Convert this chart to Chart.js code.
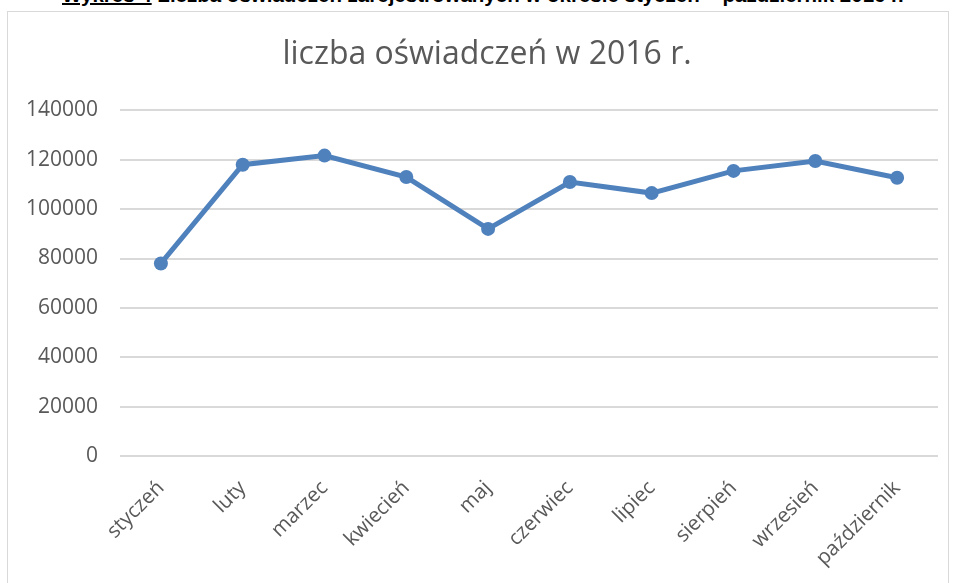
<!DOCTYPE html>
<html>
<head>
<meta charset="utf-8">
<script src="https://cdn.jsdelivr.net/npm/chart.js@4"></script>
<style>
  html, body { margin: 0; padding: 0; background: #ffffff; overflow: hidden; }
  body { width: 955px; height: 583px; position: relative; }
  #caption {
    position: absolute; left: 62px; top: -15px; white-space: nowrap;
    font-family: "Liberation Sans", Arial, sans-serif; font-weight: bold; font-size: 20.5px;
    line-height: 20.5px; color: #000;
  }
  #caption u { text-decoration-thickness: 2px; }
  #frame {
    position: absolute; left: 7px; top: 11px; width: 942px; height: 600px;
    border: 1px solid #d9d9d9; box-sizing: border-box;
  }
  #wrap { position: absolute; left: 0; top: 0; width: 955px; height: 583px; }
</style>
</head>
<body>
<div id="caption"><u>Wykres 4</u> Liczba oświadczeń zarejestrowanych w okresie styczeń – październik 2016 r.</div>
<div id="frame"></div>
<div id="wrap"><canvas id="c" width="955" height="583"></canvas></div>
<script>
const months = ["styczeń", "luty", "marzec", "kwiecień", "maj", "czerwiec", "lipiec", "sierpień", "wrzesień", "październik"];
const declarations = [78000, 118000, 121700, 113000, 92000, 111000, 106500, 115500, 119500, 112700];
const yTicks = [0, 20000, 40000, 60000, 80000, 100000, 120000, 140000];
const chartTitle = "liczba oświadczeń w 2016 r.";

const textColor = "#595959";
const gridColor = "#d9d9d9";
const lineColor = "#4f81bd";

const shiftTitle = {
  id: "shiftTitle",
  afterLayout(chart) {
    if (chart.titleBlock) { chart.titleBlock.left += 36; }
  }
};

new Chart(document.getElementById("c"), {
  type: "line",
  data: {
    labels: months,
    datasets: [{
      label: chartTitle,
      data: declarations,
      borderColor: lineColor,
      backgroundColor: lineColor,
      borderWidth: 5,
      pointRadius: 7,
      pointHoverRadius: 7,
      pointBackgroundColor: lineColor,
      pointBorderColor: lineColor,
      pointBorderWidth: 0,
      tension: 0,
      fill: false
    }]
  },
  plugins: [shiftTitle],
  options: {
    responsive: false,
    animation: false,
    devicePixelRatio: 1,
    layout: { padding: { left: 0, right: 17, top: 0, bottom: 0 } },
    plugins: {
      legend: { display: false },
      tooltip: { enabled: false },
      title: {
        display: true,
        text: chartTitle,
        color: textColor,
        font: { family: "'Open Sans', sans-serif", size: 32, weight: "normal" },
        padding: { top: 36, bottom: 36 }
      }
    },
    scales: {
      x: {
        offset: true,
        grid: { display: false, drawTicks: false },
        border: { display: false },
        ticks: {
          color: textColor,
          font: { family: "'Open Sans', sans-serif", size: 20.5 },
          minRotation: 45,
          maxRotation: 45,
          autoSkip: false,
          padding: 20
        },
        afterFit: (s) => { s.height = 127; }
      },
      y: {
        min: 0,
        max: 140000,
        afterBuildTicks: (s) => { s.ticks = yTicks.map(v => ({ value: v })); },
        grid: { color: gridColor, lineWidth: 2, drawTicks: false },
        border: { display: false },
        ticks: {
          color: textColor,
          font: { family: "'Open Sans', sans-serif", size: 21 },
          padding: 22,
          callback: (v) => String(v)
        },
        afterFit: (s) => { s.width = 120; }
      }
    }
  }
});
</script>
</body>
</html>
